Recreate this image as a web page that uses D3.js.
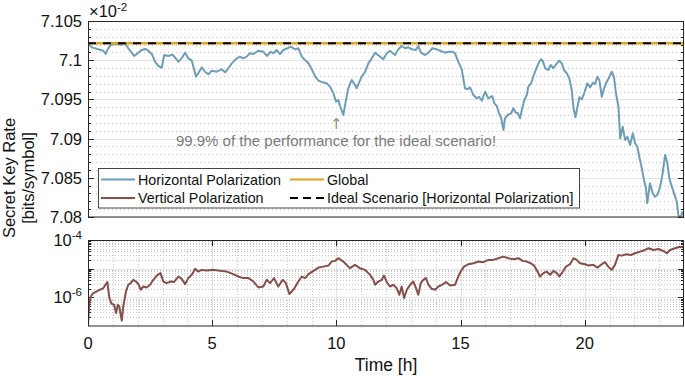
<!DOCTYPE html>
<html>
<head>
<meta charset="utf-8">
<script src="https://cdn.jsdelivr.net/npm/d3@7"></script>
<style>
body { margin: 0; background: #fff; }
svg { font-family: "Liberation Sans", Arial, sans-serif; }
</style>
</head>
<body>
<div id="chart"></div>
<script>
// horizontal polarization, secret key rate in units of 1e-2
const hTime = [0,0.15,0.41,0.62,0.71,0.79,0.93,1.09,1.36,1.49,1.62,1.76,1.86,2.00,2.16,2.30,2.43,2.57,2.70,2.83,2.97,3.07,3.23,3.40,3.50,3.64,3.77,3.91,4.04,4.18,4.28,4.35,4.44,4.58,4.71,4.85,4.98,5.18,5.38,5.52,5.65,5.79,5.99,6.12,6.25,6.39,6.52,6.66,6.86,7.06,7.20,7.36,7.46,7.60,7.73,7.87,8.03,8.16,8.34,8.47,8.61,8.74,8.88,9.01,9.15,9.28,9.45,9.61,9.75,9.88,9.99,10.08,10.15,10.28,10.39,10.48,10.62,10.71,10.82,10.93,11.02,11.16,11.29,11.43,11.56,11.73,11.89,12.03,12.16,12.36,12.50,12.63,12.77,12.90,13.04,13.20,13.30,13.41,13.57,13.71,13.87,14.04,14.18,14.38,14.51,14.67,14.78,14.91,15.05,15.18,15.29,15.38,15.52,15.65,15.75,15.86,15.99,16.12,16.28,16.36,16.46,16.55,16.63,16.73,16.79,16.90,17.04,17.13,17.23,17.31,17.40,17.47,17.57,17.67,17.73,17.84,17.93,18.03,18.14,18.24,18.31,18.41,18.54,18.63,18.74,18.88,18.97,19.08,19.17,19.28,19.38,19.48,19.55,19.63,19.71,19.79,19.88,19.98,20.11,20.22,20.33,20.42,20.51,20.59,20.69,20.78,20.89,21.00,21.09,21.18,21.26,21.36,21.43,21.53,21.63,21.72,21.83,21.94,22.03,22.12,22.20,22.30,22.39,22.47,22.52,22.63,22.74,22.83,22.93,23.04,23.14,23.24,23.33,23.41,23.51,23.60,23.71,23.77,23.84,23.95,24];
const hRate = [7.10216,7.10164,7.10139,7.10121,7.10079,7.10139,7.10198,7.10207,7.10198,7.10216,7.10152,7.10096,7.10054,7.10088,7.10130,7.10143,7.10121,7.10079,7.09981,7.09926,7.09904,7.10066,7.10054,7.10070,7.10037,7.09981,7.10024,7.10096,7.10024,7.09994,7.09875,7.09790,7.09833,7.09909,7.09853,7.09820,7.09866,7.09853,7.09884,7.09846,7.09897,7.09960,7.10024,7.10045,7.10024,7.10045,7.10088,7.10079,7.10121,7.10108,7.10054,7.10108,7.10088,7.10130,7.10079,7.10130,7.10152,7.10172,7.10139,7.10152,7.10045,7.10003,7.09960,7.09884,7.09790,7.09739,7.09718,7.09705,7.09662,7.09578,7.09471,7.09492,7.09416,7.09301,7.09492,7.09642,7.09748,7.09705,7.09642,7.09726,7.09790,7.09853,7.09960,7.10024,7.10096,7.10054,7.10011,7.10088,7.10121,7.10066,7.10139,7.10181,7.10152,7.10165,7.10139,7.10130,7.10181,7.10096,7.10066,7.10096,7.10152,7.10139,7.10121,7.10096,7.10108,7.10108,7.10088,7.09981,7.09884,7.09642,7.09629,7.09654,7.09556,7.09514,7.09534,7.09483,7.09598,7.09514,7.09543,7.09450,7.09416,7.09323,7.09272,7.09110,7.09259,7.09301,7.09323,7.09387,7.09330,7.09323,7.09259,7.09365,7.09492,7.09556,7.09662,7.09705,7.09790,7.09875,7.09960,7.10011,7.09994,7.09897,7.09875,7.09939,7.09897,7.09960,7.09994,7.09960,7.09875,7.09833,7.09769,7.09620,7.09387,7.09272,7.09407,7.09527,7.09501,7.09578,7.09705,7.09654,7.09713,7.09696,7.09790,7.09748,7.09534,7.09642,7.09726,7.09790,7.09853,7.09790,7.09578,7.09407,7.09004,7.09152,7.08982,7.09024,7.08918,7.09068,7.08940,7.08897,7.08769,7.08621,7.08472,7.08366,7.08175,7.08430,7.08302,7.08259,7.08281,7.08387,7.08557,7.08791,7.08685,7.08494,7.08387,7.08302,7.08195,7.08026,7.07987,7.08068,7.08010];

// vertical polarization, secret key rate (log scale)
const vTime = [0,0.05,0.11,0.21,0.35,0.48,0.62,0.72,0.78,0.86,0.95,1.05,1.13,1.20,1.26,1.36,1.42,1.53,1.62,1.72,1.82,1.93,2.03,2.12,2.23,2.36,2.50,2.63,2.77,2.92,3.03,3.17,3.33,3.46,3.64,3.77,3.91,4.04,4.18,4.31,4.44,4.58,4.78,5.05,5.32,5.59,5.85,6.05,6.25,6.46,6.66,6.86,7.06,7.20,7.33,7.49,7.66,7.84,7.97,8.11,8.20,8.30,8.47,8.61,8.74,8.88,9.08,9.28,9.48,9.68,9.81,9.95,10.08,10.28,10.35,10.48,10.55,10.75,10.95,11.16,11.36,11.49,11.56,11.69,11.83,11.92,12.03,12.16,12.30,12.43,12.54,12.63,12.73,12.84,12.97,13.10,13.21,13.30,13.40,13.50,13.61,13.71,13.84,13.98,14.11,14.25,14.42,14.58,14.78,14.91,15.01,15.14,15.32,15.52,15.72,15.92,16.12,16.32,16.52,16.73,16.93,17.13,17.33,17.50,17.67,17.83,17.96,18.10,18.20,18.34,18.47,18.61,18.74,18.88,18.98,19.12,19.25,19.41,19.55,19.68,19.81,20.02,20.15,20.35,20.51,20.69,20.82,20.95,21.09,21.22,21.36,21.49,21.67,21.86,22.03,22.23,22.43,22.57,22.77,22.97,23.17,23.31,23.44,23.64,23.84,23.98];
const vRate = [1.12e-7,5.5e-7,1.07e-6,1.41e-6,1.60e-6,1.84e-6,2.10e-6,2.90e-6,3.40e-6,9.5e-7,5.9e-7,5.5e-7,2.85e-7,5.5e-7,4.8e-7,1.54e-7,4.8e-7,1.60e-6,2.74e-6,3.14e-6,4.08e-6,3.56e-6,2.90e-6,1.84e-6,2.39e-6,2.21e-6,2.74e-6,4.08e-6,5.75e-6,6.98e-6,3.56e-6,3.14e-6,3.56e-6,3.40e-6,5.32e-6,4.42e-6,2.90e-6,4.68e-6,6.09e-6,9.84e-6,7.93e-6,9.08e-6,8.59e-6,9.08e-6,8.39e-6,7.93e-6,6.44e-6,5.32e-6,4.68e-6,4.68e-6,3.56e-6,2.21e-6,2.39e-6,4.08e-6,3.14e-6,4.68e-6,2.39e-6,4.08e-6,3.14e-6,1.30e-6,1.60e-6,1.99e-6,3.56e-6,5.32e-6,4.68e-6,6.44e-6,8.39e-6,1.09e-5,1.18e-5,1.28e-5,1.77e-5,1.87e-5,2.32e-5,1.77e-5,1.55e-5,1.18e-5,1.04e-5,1.36e-5,1.04e-5,9.08e-6,6.09e-6,4.08e-6,2.74e-6,3.56e-6,4.08e-6,5.75e-6,3.40e-6,2.39e-6,2.74e-6,2.10e-6,1.23e-6,2.39e-6,9.5e-7,1.84e-6,2.74e-6,3.56e-6,2.10e-6,1.23e-6,3.14e-6,4.08e-6,4.68e-6,2.74e-6,1.99e-6,1.84e-6,2.39e-6,2.74e-6,3.40e-6,2.59e-6,2.74e-6,5.32e-6,7.93e-6,1.18e-5,1.43e-5,1.55e-5,1.77e-5,1.68e-5,2.02e-5,2.02e-5,2.32e-5,2.63e-5,2.32e-5,2.14e-5,2.32e-5,1.87e-5,1.77e-5,1.55e-5,1.28e-5,7.93e-6,5.32e-6,6.98e-6,7.93e-6,6.09e-6,8.39e-6,6.98e-6,5.32e-6,7.93e-6,1.18e-5,1.43e-5,2.32e-5,2.02e-5,1.55e-5,1.43e-5,1.28e-5,1.36e-5,1.09e-5,1.43e-5,1.68e-5,1.18e-5,9.08e-6,1.36e-5,3.01e-5,2.85e-5,3.19e-5,3.01e-5,3.45e-5,3.93e-5,4.50e-5,5.15e-5,4.50e-5,4.87e-5,4.15e-5,3.45e-5,4.50e-5,5.15e-5,5.85e-5,5.41e-5];

const idealRate = 7.10216;   // ideal scenario [horizontal polarization]
const globalRate = 7.10216;  // global
const topTicks = [7.08, 7.085, 7.09, 7.095, 7.1, 7.105];
const botTickExp = [-4, -6];
const timeTicks = [0, 5, 10, 15, 20];
const legendNames = ["Horizontal Polarization", "Vertical Polarization", "Global", "Ideal Scenario [Horizontal Polarization]"];

const W = 685, H = 376;
const colH = "#6f9db5", colV = "#84504b", colG = "#d8a623";
const frameCol = "#262626", gridCol = "#e3e3e3", minorCol = "#c8c8c8";

const svg = d3.select("#chart").append("svg").attr("width", W).attr("height", H);

const x = d3.scaleLinear().domain([0, 24]).range([88, 684]);
const yTop = d3.scaleLinear().domain([7.08, 7.105]).range([217, 21]);
const yBot = d3.scaleLog().domain([1e-7, 1e-4]).range([326, 240]);

const defs = svg.append("defs");
defs.append("clipPath").attr("id", "clipTop").append("rect")
  .attr("x", 88).attr("y", 21).attr("width", 596).attr("height", 196);
defs.append("clipPath").attr("id", "clipBot").append("rect")
  .attr("x", 88).attr("y", 240).attr("width", 596).attr("height", 86);

// ---------- top panel ----------
const topG = svg.append("g");
const topMinor = d3.range(7080, 7106).map(d => d / 1000);
topG.selectAll(".tminor").data(topMinor.filter(d => Math.round(d * 1000) % 5 !== 0)).join("line")
  .attr("x1", 88).attr("x2", 684)
  .attr("y1", d => Math.round(yTop(d)) + 0.5).attr("y2", d => Math.round(yTop(d)) + 0.5)
  .attr("stroke", minorCol).attr("stroke-dasharray", "1,3");
topG.selectAll(".tmajor").data(topTicks).join("line")
  .attr("x1", 88).attr("x2", 684)
  .attr("y1", d => Math.round(yTop(d)) + 0.5).attr("y2", d => Math.round(yTop(d)) + 0.5)
  .attr("stroke", gridCol);

// tick marks left and right
topG.selectAll(".tk").data(topMinor).join("g").each(function (d) {
  const len = Math.round(d * 1000) % 5 === 0 ? 6 : 3;
  const yy = Math.round(yTop(d)) + 0.5;
  d3.select(this).append("line").attr("x1", 88).attr("x2", 88 + len).attr("y1", yy).attr("y2", yy).attr("stroke", frameCol);
  d3.select(this).append("line").attr("x1", 684).attr("x2", 684 - len).attr("y1", yy).attr("y2", yy).attr("stroke", frameCol);
});

const lineTop = d3.line().x(d => x(d[0])).y(d => yTop(d[1]));
const gTopLines = topG.append("g").attr("clip-path", "url(#clipTop)");
gTopLines.append("path").datum(d3.zip(hTime, hRate))
  .attr("d", lineTop).attr("fill", "none").attr("stroke", colH).attr("stroke-width", 2).attr("stroke-linejoin", "round");
gTopLines.append("path").datum([[0, globalRate], [24, globalRate]])
  .attr("d", lineTop).attr("fill", "none").attr("stroke", colG).attr("stroke-width", 2.5);
gTopLines.append("path").datum([[0, idealRate], [24, idealRate]])
  .attr("d", lineTop).attr("fill", "none").attr("stroke", "#000").attr("stroke-width", 2.2)
  .attr("stroke-dasharray", "8,7");

topG.append("rect").attr("x", 88.5).attr("y", 21.5).attr("width", 595).attr("height", 195.5)
  .attr("fill", "none").attr("stroke", frameCol);

topG.selectAll(".tlab").data(topTicks).join("text")
  .attr("x", 82).attr("y", d => yTop(d)).attr("dy", "0.36em")
  .attr("text-anchor", "end").attr("font-size", 16.5).attr("fill", "#111")
  .text(d => String(+d.toFixed(3)));

const mult = topG.append("text").attr("x", 89).attr("y", 17).attr("font-size", 16.5).attr("fill", "#111");
mult.append("tspan").text("\u00d710");
mult.append("tspan").attr("dy", -6).attr("font-size", 11.5).text("-2");

// annotation
topG.append("text").attr("x", x(10)).attr("y", 129).attr("text-anchor", "middle")
  .attr("font-family", "DejaVu Sans").attr("font-size", 15).attr("fill", "#8c8c8c").text("\u2191");
topG.append("text").attr("x", 336).attr("y", 146).attr("text-anchor", "middle")
  .attr("font-size", 15).attr("fill", "#7a7a7a").text("99.9% of the performance for the ideal scenario!");

// legend
const leg = topG.append("g");
leg.append("rect").attr("x", 98.5).attr("y", 168.5).attr("width", 481).attr("height", 39.5)
  .attr("fill", "#fff").attr("stroke", "#444");
const legItems = [
  { name: legendNames[0], col: colH, x: 101, y: 179.5, dash: null },
  { name: legendNames[1], col: colV, x: 101, y: 198, dash: null },
  { name: legendNames[2], col: colG, x: 290, y: 179.5, dash: null },
  { name: legendNames[3], col: "#000", x: 290, y: 198, dash: "8,5" }
];
legItems.forEach(it => {
  leg.append("line").attr("x1", it.x).attr("x2", it.x + 34).attr("y1", it.y).attr("y2", it.y)
    .attr("stroke", it.col).attr("stroke-width", 2).attr("stroke-dasharray", it.dash);
  leg.append("text").attr("x", it.x + 37).attr("y", it.y).attr("dy", "0.36em")
    .attr("font-size", 14.3).attr("fill", "#111").text(it.name);
});

// ---------- bottom panel ----------
const botG = svg.append("g");
const decades = [-7, -6, -5];
const logMinor = [];
decades.forEach(e => { for (let k = 2; k <= 9; k++) logMinor.push(k * Math.pow(10, e)); });
const hourMinor = d3.range(1, 24).filter(h => h % 5 !== 0);

botG.selectAll(".bym").data(logMinor).join("line")
  .attr("x1", 88).attr("x2", 684)
  .attr("y1", d => Math.round(yBot(d)) + 0.5).attr("y2", d => Math.round(yBot(d)) + 0.5)
  .attr("stroke", minorCol).attr("stroke-dasharray", "1,2");
botG.selectAll(".bxm").data(hourMinor).join("line")
  .attr("x1", d => Math.round(x(d)) + 0.5).attr("x2", d => Math.round(x(d)) + 0.5)
  .attr("y1", 240).attr("y2", 326)
  .attr("stroke", minorCol).attr("stroke-dasharray", "1,2");
botG.selectAll(".byM").data([1e-6, 1e-5]).join("line")
  .attr("x1", 88).attr("x2", 684)
  .attr("y1", d => Math.round(yBot(d)) + 0.5).attr("y2", d => Math.round(yBot(d)) + 0.5)
  .attr("stroke", gridCol);
botG.selectAll(".bxM").data(timeTicks.slice(1)).join("line")
  .attr("x1", d => Math.round(x(d)) + 0.5).attr("x2", d => Math.round(x(d)) + 0.5)
  .attr("y1", 240).attr("y2", 326).attr("stroke", gridCol);

// ticks
const yTicksAll = logMinor.concat([1e-6, 1e-5]);
botG.selectAll(".byt").data(yTicksAll).join("g").each(function (d) {
  const major = [1e-6, 1e-5].includes(d);
  const len = major ? 6 : 3;
  const yy = Math.round(yBot(d)) + 0.5;
  d3.select(this).append("line").attr("x1", 88).attr("x2", 88 + len).attr("y1", yy).attr("y2", yy).attr("stroke", frameCol);
  d3.select(this).append("line").attr("x1", 684).attr("x2", 684 - len).attr("y1", yy).attr("y2", yy).attr("stroke", frameCol);
});
botG.selectAll(".bxt").data(timeTicks.slice(1)).join("g").each(function (d) {
  const xx = Math.round(x(d)) + 0.5;
  d3.select(this).append("line").attr("x1", xx).attr("x2", xx).attr("y1", 240).attr("y2", 246).attr("stroke", frameCol);
  d3.select(this).append("line").attr("x1", xx).attr("x2", xx).attr("y1", 326).attr("y2", 320).attr("stroke", frameCol);
});

const lineBot = d3.line().x(d => x(d[0])).y(d => yBot(d[1]));
botG.append("g").attr("clip-path", "url(#clipBot)").append("path")
  .datum(d3.zip(vTime, vRate))
  .attr("d", lineBot).attr("fill", "none").attr("stroke", colV).attr("stroke-width", 2).attr("stroke-linejoin", "round");

botG.append("rect").attr("x", 88.5).attr("y", 240.5).attr("width", 595).attr("height", 85.5)
  .attr("fill", "none").attr("stroke", frameCol);

botG.selectAll(".blab").data(botTickExp).join("text")
  .attr("x", 82).attr("y", d => yBot(Math.pow(10, d)) + 6)
  .attr("text-anchor", "end").attr("font-size", 16.5).attr("fill", "#111")
  .each(function (d) {
    const t = d3.select(this);
    t.append("tspan").text("10");
    t.append("tspan").attr("dy", -7).attr("font-size", 11.5).text(String(d));
  });

// x axis labels
botG.selectAll(".xlab").data(timeTicks).join("text")
  .attr("x", d => x(d)).attr("y", 349).attr("text-anchor", "middle")
  .attr("font-size", 16.5).attr("fill", "#111").text(d => d);
botG.append("text").attr("x", 386).attr("y", 371).attr("text-anchor", "middle")
  .attr("font-size", 17.5).attr("fill", "#111").text("Time [h]");

// y axis title
svg.append("text").attr("transform", "translate(15,178) rotate(-90)").attr("text-anchor", "middle")
  .attr("font-size", 16.5).attr("fill", "#111").text("Secret Key Rate");
svg.append("text").attr("transform", "translate(34,178) rotate(-90)").attr("text-anchor", "middle")
  .attr("font-size", 16.5).attr("fill", "#111").text("[bits/symbol]");
</script>
</body>
</html>
